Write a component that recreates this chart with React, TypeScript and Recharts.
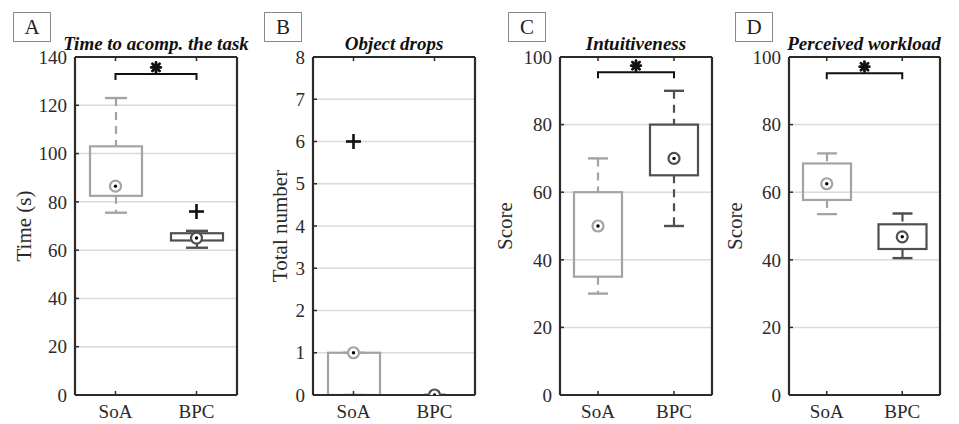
import React from "react";
import {
  Bar,
  CartesianGrid,
  ComposedChart,
  ReferenceLine,
  Scatter,
  XAxis,
  YAxis,
} from "recharts";

// groups
const groups = ["SoA", "BPC"];

// panel A - time to accomplish the task (s)
const timeLow = [75.5, 61];
const timeQ1 = [82.5, 64];
const timeMedian = [86.5, 65];
const timeQ3 = [103, 67];
const timeHigh = [123, 68];
const timeOutlier = [null, 76];

// panel B - object drops
const dropsLow = [0, 0];
const dropsQ1 = [0, 0];
const dropsMedian = [1, 0];
const dropsQ3 = [1, 0];
const dropsHigh = [1, 0];
const dropsOutlier = [6, null];

// panel C - intuitiveness score
const intLow = [30, 50];
const intQ1 = [35, 65];
const intMedian = [50, 70];
const intQ3 = [60, 80];
const intHigh = [70, 90];
const intOutlier = [null, null];

// panel D - perceived workload score
const workLow = [53.5, 40.5];
const workQ1 = [57.7, 43.2];
const workMedian = [62.5, 46.8];
const workQ3 = [68.5, 50.5];
const workHigh = [71.5, 53.7];
const workOutlier = [null, null];

const ticks140 = [0, 20, 40, 60, 80, 100, 120, 140];
const ticks8 = [0, 1, 2, 3, 4, 5, 6, 7, 8];
const ticks100 = [0, 20, 40, 60, 80, 100];

const COLORS = ["#a3a3a3", "#4f4f4f"];
const AXIS = "#2b2b2b";
const FONT = "'Liberation Serif', 'Times New Roman', serif";

function buildRows(lo, q1, med, q3, hi, out) {
  return groups.map((name, i) => ({
    name,
    idx: i,
    lo: lo[i],
    q1: q1[i],
    median: med[i],
    q3: q3[i],
    hi: hi[i],
    outlier: out[i],
  }));
}

const BoxShape = (props) => {
  const { x, y, width, height, payload } = props;
  const top = Math.min(y, y + height);
  const h = Math.abs(height);
  return (
    <rect
      x={x}
      y={top}
      width={width}
      height={h}
      fill="none"
      stroke={COLORS[payload.idx]}
      strokeWidth={2.2}
    />
  );
};

const UpperWhisker = (props) => {
  const { x, y, width, height, payload } = props;
  const top = Math.min(y, y + height);
  const h = Math.abs(height);
  const cx = x + width / 2;
  const c = COLORS[payload.idx];
  return (
    <g>
      <line x1={cx} x2={cx} y1={top} y2={top + h} stroke={c} strokeWidth={2.2} strokeDasharray="8 6" />
      <line x1={x} x2={x + width} y1={top} y2={top} stroke={c} strokeWidth={2.4} />
    </g>
  );
};

const LowerWhisker = (props) => {
  const { x, y, width, height, payload } = props;
  const top = Math.min(y, y + height);
  const h = Math.abs(height);
  const cx = x + width / 2;
  const c = COLORS[payload.idx];
  return (
    <g>
      <line x1={cx} x2={cx} y1={top} y2={top + h} stroke={c} strokeWidth={2.2} strokeDasharray="8 6" />
      <line x1={x} x2={x + width} y1={top + h} y2={top + h} stroke={c} strokeWidth={2.4} />
    </g>
  );
};

const MedianDot = (props) => {
  const { cx, cy, payload } = props;
  if (cx == null || cy == null || isNaN(cy)) return null;
  return (
    <g>
      <circle cx={cx} cy={cy} r={5.5} fill="#fff" stroke={COLORS[payload.idx]} strokeWidth={2.2} />
      <circle cx={cx} cy={cy} r={1.7} fill="#000" />
    </g>
  );
};

const OutlierPlus = (props) => {
  const { cx, cy, payload } = props;
  if (payload.outlier == null || cy == null || isNaN(cy)) return null;
  return (
    <g stroke="#111" strokeWidth={2.6}>
      <line x1={cx - 7.5} x2={cx + 7.5} y1={cy} y2={cy} />
      <line x1={cx} x2={cx} y1={cy - 7.5} y2={cy + 7.5} />
    </g>
  );
};

// significance bracket with a heavy asterisk on top
const Bracket = (props) => {
  const { x1, x2, y1 } = props;
  const mid = (x1 + x2) / 2;
  const sy = y1 - 6.5;
  return (
    <g>
      <path
        d={`M${x1},${y1 + 6} L${x1},${y1} L${x2},${y1} L${x2},${y1 + 6}`}
        fill="none"
        stroke="#111"
        strokeWidth={2}
      />
      <circle cx={mid} cy={sy} r={3} fill="#111" />
      <g stroke="#111" strokeWidth={2.8} strokeLinecap="round">
        <line x1={mid - 4.8} x2={mid + 4.8} y1={sy} y2={sy} />
        <line x1={mid} x2={mid} y1={sy - 5} y2={sy + 5} />
        <line x1={mid - 3.6} x2={mid + 3.6} y1={sy - 3.6} y2={sy + 3.6} />
        <line x1={mid - 3.6} x2={mid + 3.6} y1={sy + 3.6} y2={sy - 3.6} />
      </g>
    </g>
  );
};

const tickStyle = { fill: "#2a2a2a", fontSize: 19, fontFamily: FONT };

function Panel({ left, width, yWidth, rows, domain, ticks, bandBox, capSize, bracketY }) {
  return (
    <div style={{ position: "absolute", left, top: 0 }}>
      <ComposedChart
        width={width}
        height={424}
        data={rows}
        margin={{ top: 56, right: 0, bottom: 0, left: 0 }}
      >
        <CartesianGrid
          xAxisId="main"
          yAxisId="left"
          vertical={false}
          horizontal
          stroke="#dadada"
          strokeWidth={1.5}
        />
        <XAxis
          xAxisId="main"
          dataKey="name"
          type="category"
          height={29}
          axisLine={{ stroke: AXIS, strokeWidth: 2.2 }}
          tickLine={{ stroke: AXIS, strokeWidth: 1.5 }}
          tickSize={-4}
          tickMargin={14}
          tick={tickStyle}
        />
        <XAxis
          xAxisId="top"
          dataKey="name"
          type="category"
          orientation="top"
          height={1}
          axisLine={{ stroke: AXIS, strokeWidth: 2.2 }}
          tickLine={{ stroke: AXIS, strokeWidth: 1.5 }}
          tickSize={-4}
          tickFormatter={() => ""}
        />
        <XAxis xAxisId="wu" dataKey="name" type="category" hide />
        <XAxis xAxisId="wl" dataKey="name" type="category" hide />
        <YAxis
          yAxisId="left"
          type="number"
          domain={domain}
          ticks={ticks}
          interval={0}
          allowDataOverflow
          width={yWidth}
          axisLine={{ stroke: AXIS, strokeWidth: 2.2 }}
          tickLine={{ stroke: AXIS, strokeWidth: 1.5 }}
          tickSize={-4}
          tickMargin={12}
          tick={tickStyle}
        />
        <YAxis
          yAxisId="right"
          orientation="right"
          type="number"
          domain={domain}
          ticks={ticks}
          interval={0}
          width={5}
          axisLine={{ stroke: AXIS, strokeWidth: 2.2 }}
          tickLine={{ stroke: AXIS, strokeWidth: 1.5 }}
          tickSize={-4}
          tickFormatter={() => ""}
        />
        <Bar
          xAxisId="wu"
          yAxisId="left"
          dataKey={(d) => [d.q3, d.hi]}
          barSize={capSize}
          shape={UpperWhisker}
          isAnimationActive={false}
        />
        <Bar
          xAxisId="wl"
          yAxisId="left"
          dataKey={(d) => [d.lo, d.q1]}
          barSize={capSize}
          shape={LowerWhisker}
          isAnimationActive={false}
        />
        <Bar
          xAxisId="main"
          yAxisId="left"
          dataKey={(d) => [d.q1, d.q3]}
          barSize={bandBox}
          shape={BoxShape}
          isAnimationActive={false}
        />
        <Scatter
          xAxisId="main"
          yAxisId="left"
          dataKey="median"
          shape={MedianDot}
          isAnimationActive={false}
        />
        <Scatter
          xAxisId="main"
          yAxisId="left"
          dataKey="outlier"
          shape={OutlierPlus}
          isAnimationActive={false}
        />
        {bracketY != null && (
          <ReferenceLine
            xAxisId="main"
            yAxisId="left"
            segment={[
              { x: "SoA", y: bracketY },
              { x: "BPC", y: bracketY },
            ]}
            shape={Bracket}
          />
        )}
      </ComposedChart>
    </div>
  );
}

const letterBox = (left, letter) => (
  <div
    style={{
      position: "absolute",
      left,
      top: 12,
      width: 36,
      height: 28,
      border: "1px solid #8a8a8a",
      background: "#fff",
      fontFamily: FONT,
      fontSize: 21,
      lineHeight: "28px",
      textAlign: "center",
      color: "#222",
    }}
  >
    {letter}
  </div>
);

const title = (cx, text) => (
  <div
    style={{
      position: "absolute",
      left: cx - 150,
      width: 300,
      top: 33,
      textAlign: "center",
      fontFamily: FONT,
      fontSize: 19,
      fontWeight: "bold",
      fontStyle: "italic",
      color: "#111",
      whiteSpace: "nowrap",
    }}
  >
    {text}
  </div>
);

const yLabel = (cx, text) => (
  <div
    style={{
      position: "absolute",
      left: cx,
      top: 226,
      transform: "translate(-50%, -50%) rotate(-90deg)",
      fontFamily: FONT,
      fontSize: 21,
      color: "#2a2a2a",
      whiteSpace: "nowrap",
    }}
  >
    {text}
  </div>
);

export default function App() {
  const rowsA = buildRows(timeLow, timeQ1, timeMedian, timeQ3, timeHigh, timeOutlier);
  const rowsB = buildRows(dropsLow, dropsQ1, dropsMedian, dropsQ3, dropsHigh, dropsOutlier);
  const rowsC = buildRows(intLow, intQ1, intMedian, intQ3, intHigh, intOutlier);
  const rowsD = buildRows(workLow, workQ1, workMedian, workQ3, workHigh, workOutlier);

  return (
    <div
      style={{
        position: "absolute",
        left: 0,
        top: 0,
        width: 959,
        height: 424,
        background: "#fff",
        overflow: "hidden",
      }}
    >
      <Panel left={0} width={242} yWidth={75} rows={rowsA} domain={[0, 140]} ticks={ticks140} bandBox={52} capSize={22} bracketY={133} />
      <Panel left={242} width={238} yWidth={71} rows={rowsB} domain={[0, 8]} ticks={ticks8} bandBox={52} capSize={22} bracketY={null} />
      <Panel left={480} width={237} yWidth={80} rows={rowsC} domain={[0, 100]} ticks={ticks100} bandBox={48} capSize={20} bracketY={95.5} />
      <Panel left={717} width={228} yWidth={72} rows={rowsD} domain={[0, 100]} ticks={ticks100} bandBox={48} capSize={20} bracketY={95.2} />

      {letterBox(13, "A")}
      {letterBox(264, "B")}
      {letterBox(508, "C")}
      {letterBox(735, "D")}

      {title(156, "Time to acomp. the task")}
      {title(394, "Object drops")}
      {title(636, "Intuitiveness")}
      {title(864, "Perceived workload")}

      {yLabel(24, "Time (s)")}
      {yLabel(280, "Total number")}
      {yLabel(505, "Score")}
      {yLabel(735, "Score")}
    </div>
  );
}
